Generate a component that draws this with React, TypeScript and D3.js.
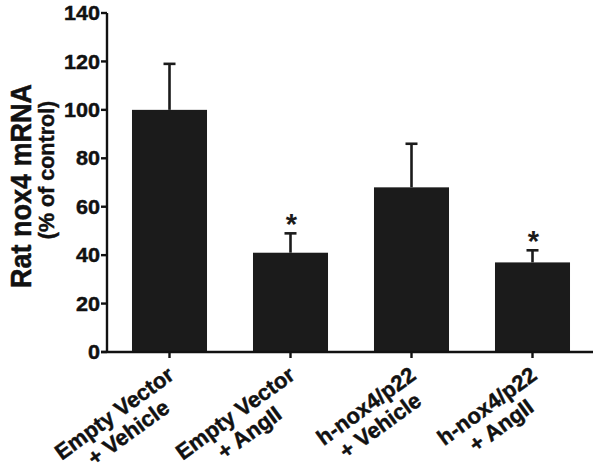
import React from 'react';
import * as d3 from 'd3';

const groups = ['ev_veh', 'ev_ang', 'hn_veh', 'hn_ang'];
const labelTop = ['Empty Vector', 'Empty Vector', 'h-nox4/p22', 'h-nox4/p22'];
const labelBottom = ['+ Vehicle', '+ AngII', '+ Vehicle', '+ AngII'];
const means = [100, 41, 68, 37];
const errors = [19, 8, 18, 5];
const significant = [false, true, false, true];
const yTicks = [0, 20, 40, 60, 80, 100, 120, 140];

const W = 601;
const H = 472;
const FONT = '"Liberation Sans", Arial, Helvetica, sans-serif';

export default function App() {
  const ref = React.useRef<SVGSVGElement>(null);

  React.useEffect(() => {
    if (!ref.current) return;
    const svg = d3.select(ref.current);
    svg.selectAll('*').remove();

    const x0 = 107;
    const x = d3.scaleBand<string>().domain(groups).range([109, 593]).paddingInner(0).paddingOuter(0);
    const y = d3.scaleLinear().domain([0, 140]).range([352, 13]);
    const barW = x.bandwidth() * 0.62;
    const cx = (g: string) => (x(g) || 0) + x.bandwidth() / 2;

    const g = svg.append('g')
      .style('font-family', FONT)
      .style('font-weight', 'bold');

    // bars
    g.selectAll('rect.bar')
      .data(groups)
      .join('rect')
      .attr('class', 'bar')
      .attr('x', d => cx(d) - barW / 2)
      .attr('width', barW)
      .attr('y', (d, i) => y(means[i]))
      .attr('height', (d, i) => y(0) - y(means[i]))
      .attr('fill', '#1b1b1b');

    // error bars (upper only)
    const eb = g.append('g').attr('stroke', '#1b1b1b').attr('stroke-width', 2.6);
    groups.forEach((d, i) => {
      const top = y(means[i] + errors[i]);
      eb.append('line').attr('x1', cx(d)).attr('x2', cx(d)).attr('y1', y(means[i])).attr('y2', top);
      eb.append('line').attr('x1', cx(d) - 6).attr('x2', cx(d) + 6).attr('y1', top).attr('y2', top);
      if (significant[i]) {
        g.append('text')
          .attr('x', cx(d) + 1)
          .attr('y', top + 1)
          .attr('text-anchor', 'middle')
          .attr('font-size', 29)
          .attr('fill', '#1b1b1b')
          .text('*');
      }
    });

    // axes
    const ax = g.append('g').attr('stroke', '#111').attr('stroke-width', 2.4).attr('fill', 'none');
    ax.append('line').attr('x1', x0).attr('x2', x0).attr('y1', y(140)).attr('y2', y(0) + 1);
    ax.append('line').attr('x1', x0 - 6).attr('x2', 593).attr('y1', y(0)).attr('y2', y(0));
    yTicks.forEach(t => {
      ax.append('line').attr('x1', x0 - 6).attr('x2', x0).attr('y1', y(t)).attr('y2', y(t));
    });
    groups.forEach(d => {
      ax.append('line').attr('x1', cx(d)).attr('x2', cx(d)).attr('y1', y(0)).attr('y2', y(0) + 6);
    });

    // text gets a thin stroke so it reads as heavy as the reference
    const heavy = (sel: any) => sel.attr('fill', '#111').attr('stroke', '#111').attr('stroke-width', 0.45);

    g.selectAll('text.ytick')
      .data(yTicks)
      .join('text')
      .attr('class', 'ytick')
      .attr('transform', d => `translate(${x0 - 7},${y(d)}) scale(1.08,1)`)
      .attr('dy', '0.36em')
      .attr('text-anchor', 'end')
      .attr('font-size', 20)
      .call(heavy)
      .text(d => d);

    // y title
    g.append('text')
      .attr('transform', 'translate(31,186) scale(1.12,1) rotate(-90)')
      .attr('text-anchor', 'middle')
      .attr('font-size', 27)
      .call(heavy)
      .text('Rat nox4 mRNA');
    g.append('text')
      .attr('transform', 'translate(54,170) rotate(-90)')
      .attr('text-anchor', 'middle')
      .attr('font-size', 21.5)
      .call(heavy)
      .text('(% of control)');

    // x labels
    const angle = -36;
    groups.forEach((d, i) => {
      const lg = g.append('g').attr('transform', `translate(${cx(d) + 6},${y(0) + 26}) rotate(${angle})`);
      const t1 = lg.append('text')
        .attr('text-anchor', 'end')
        .attr('font-size', 22)
        .call(heavy)
        .text(labelTop[i]);
      const w1 = (t1.node() as SVGTextElement).getComputedTextLength();
      lg.append('text')
        .attr('x', -w1 / 2)
        .attr('y', 24)
        .attr('text-anchor', 'middle')
        .attr('font-size', 22)
        .call(heavy)
        .text(labelBottom[i]);
    });
  }, []);

  return (
    <svg
      ref={ref}
      width={W}
      height={H}
      viewBox={`0 0 ${W} ${H}`}
      style={{ position: 'absolute', left: 0, top: 0, background: '#fff' }}
    />
  );
}
